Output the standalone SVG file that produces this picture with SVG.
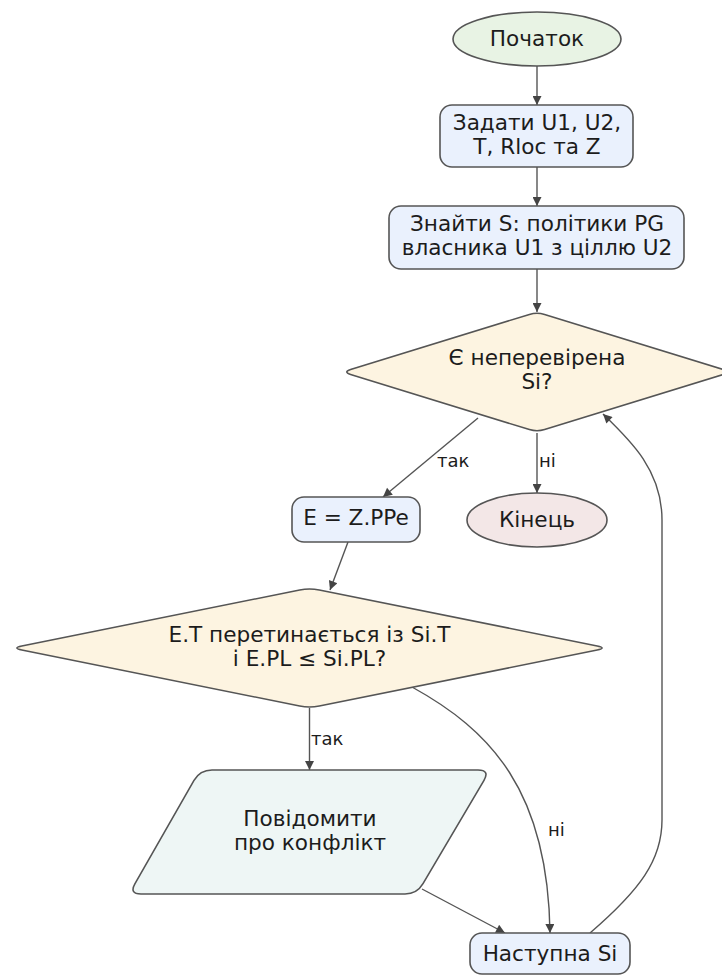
<svg xmlns="http://www.w3.org/2000/svg" width="722" height="976" viewBox="0 0 722 976">
  <defs>
    <marker id="arrow" viewBox="0 0 10 10" refX="10" refY="5" markerUnits="userSpaceOnUse" markerWidth="11" markerHeight="9" orient="auto">
      <path d="M0,0 L10,5 L0,10 Z" fill="#444"/>
    </marker>
    <style>
      text { font-family: "DejaVu Sans", "Noto Sans", sans-serif; fill: #1c1c1c; }
      .node { font-size: 21.6px; text-anchor: middle; }
      .lbl { font-size: 18px; }
      .edge { fill: none; stroke: #555; stroke-width: 1.4; marker-end: url(#arrow); }
      .shape { stroke: #555; stroke-width: 1.6; }
      .term-start { fill: #e8f3e4; }
      .term-end { fill: #f3e7e7; }
      .proc { fill: #eaf1fd; }
      .dec { fill: #fdf4e1; }
      .io { fill: #eef6f5; }
    </style>
  </defs>
  <rect width="722" height="976" fill="#ffffff"/>

  <!-- connectors -->
  <g id="edges">
    <path class="edge" d="M537,66 L537,105"/>
    <path class="edge" d="M537,167 L537,206"/>
    <path class="edge" d="M537,269 L537,312"/>
    <path class="edge" d="M478,418 L383,497"/>
    <path class="edge" d="M537,433 L537,493"/>
    <path class="edge" d="M348,542 L330,590"/>
    <path class="edge" d="M309.5,708 L309.5,770"/>
    <path class="edge" d="M412,687 C490,730 548,790 550,933"/>
    <path class="edge" d="M422,889 L505,933"/>
    <path class="edge" d="M590,933 C640,890 662,860 662,820 L662,520 C662,470 630,440 603,414"/>
    <text class="lbl" x="437" y="467">так</text>
    <text class="lbl" x="539" y="467">ні</text>
    <text class="lbl" x="311" y="745">так</text>
    <text class="lbl" x="548" y="836">ні</text>
  </g>

  <g id="start">
    <ellipse class="shape term-start" cx="537" cy="39" rx="84" ry="27"/>
    <text class="node" x="537" y="46">Початок</text>
  </g>

  <g id="set-input">
    <rect class="shape proc" x="440" y="105" width="193" height="62" rx="12"/>
    <text class="node" x="537" y="130">Задати U1, U2,</text>
    <text class="node" x="537" y="154">T, Rloc та Z</text>
  </g>

  <g id="find-policies">
    <rect class="shape proc" x="389" y="206" width="295" height="63" rx="12"/>
    <text class="node" x="537" y="231">Знайти S: політики PG</text>
    <text class="node" x="537" y="255">власника U1 з ціллю U2</text>
  </g>

  <g id="has-unchecked">
    <path class="shape dec" d="M529.4,314.4 Q537,312 544.6,314.4 L723.4,369.6 Q731,372 723.4,374.4 L544.6,429.6 Q537,432 529.4,429.6 L350.6,374.4 Q343,372 350.6,369.6 Z"/>
    <text class="node" x="537" y="365">Є неперевірена</text>
    <text class="node" x="537" y="389">Si?</text>
  </g>

  <g id="end">
    <ellipse class="shape term-end" cx="537" cy="520" rx="70" ry="27"/>
    <text class="node" x="537" y="527">Кінець</text>
  </g>

  <g id="assign-e">
    <rect class="shape proc" x="292" y="497" width="128" height="45" rx="12"/>
    <text class="node" x="356" y="525">E = Z.PPe</text>
  </g>

  <g id="check-overlap">
    <path class="shape dec" d="M299.7,590 Q309.5,588 319.3,590 L597.2,646 Q607,648 597.2,650 L319.3,706 Q309.5,708 299.7,706 L21.8,650 Q12,648 21.8,646 Z"/>
    <text class="node" x="309.5" y="642">E.T перетинається із Si.T</text>
    <text class="node" x="309.5" y="666">і E.PL ≤ Si.PL?</text>
  </g>

  <g id="report-conflict">
    <path class="shape io" d="M212,770 L478,770 Q490,770 484,780.3 L423,883.7 Q417,894 405,894 L141,894 Q129,894 135,883.6 L194,780.4 Q200,770 212,770 Z"/>
    <text class="node" x="310" y="826">Повідомити</text>
    <text class="node" x="310" y="850">про конфлікт</text>
  </g>

  <g id="next-si">
    <rect class="shape proc" x="470" y="933" width="160" height="41" rx="12"/>
    <text class="node" x="550" y="961">Наступна Si</text>
  </g>
</svg>
